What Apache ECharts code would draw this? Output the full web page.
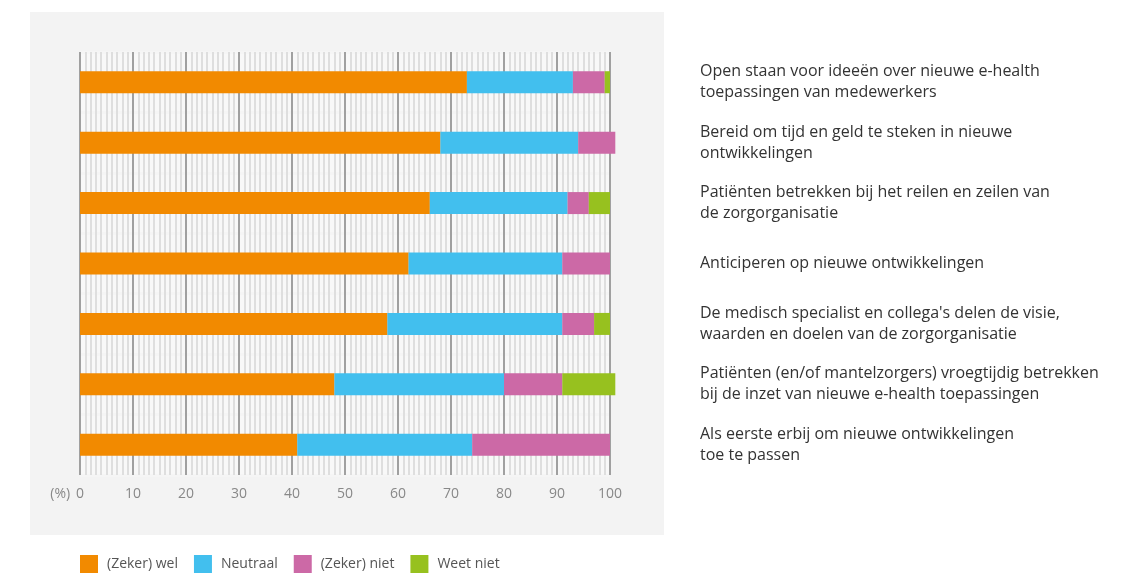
<!DOCTYPE html>
<html>
<head>
<meta charset="utf-8">
<script src="https://cdn.jsdelivr.net/npm/echarts@6/dist/echarts.min.js"></script>
<style>
  html, body { margin: 0; padding: 0; background: #fff; }
  #main { width: 1136px; height: 573px; }
</style>
</head>
<body>
<div id="main"></div>
<script>
var categories = [
    'Open staan voor ideeën over nieuwe e-health\ntoepassingen van medewerkers',
    'Bereid om tijd en geld te steken in nieuwe\nontwikkelingen',
    'Patiënten betrekken bij het reilen en zeilen van\nde zorgorganisatie',
    'Anticiperen op nieuwe ontwikkelingen',
    "De medisch specialist en collega's delen de visie,\nwaarden en doelen van de zorgorganisatie",
    'Patiënten (en/of mantelzorgers) vroegtijdig betrekken\nbij de inzet van nieuwe e-health toepassingen',
    'Als eerste erbij om nieuwe ontwikkelingen\ntoe te passen'
];
var zekerWel = [73, 68, 66, 62, 58, 48, 41];
var neutraal = [20, 26, 26, 29, 33, 32, 33];
var zekerNiet = [6, 7, 4, 9, 6, 11, 26];
var weetNiet = [1, 0, 4, 0, 3, 10, 0];
var seriesNames = ['(Zeker) wel', 'Neutraal', '(Zeker) niet', 'Weet niet'];
var colors = ['#f28a00', '#42bfee', '#cc69a6', '#97c11f'];

var chart = echarts.init(document.getElementById('main'));

function makeSeries(name, data, color) {
    return {
        name: name,
        type: 'bar',
        stack: 'total',
        barWidth: 22,
        clip: false,
        itemStyle: { color: color },
        data: data
    };
}

var option = {
    animation: false,
    textStyle: { fontFamily: 'Open Sans' },
    graphic: [{
        type: 'rect',
        z: -10,
        shape: { x: 30, y: 12, width: 634, height: 523 },
        style: { fill: '#f3f3f3' }
    }],
    legend: {
        left: 75,
        top: 550,
        itemWidth: 18,
        itemHeight: 18,
        itemGap: 16,
        icon: 'rect',
        textStyle: { color: '#555', fontSize: 14, padding: [0, 0, 0, 4] },
        data: seriesNames
    },
    grid: {
        left: 80,
        right: 526,
        top: 52,
        bottom: 98,
        show: true,
        backgroundColor: '#f8f8f8',
        borderWidth: 0
    },
    xAxis: {
        type: 'value',
        min: 0,
        max: 100,
        interval: 10,
        name: '(%)',
        nameLocation: 'start',
        nameGap: 8,
        nameTextStyle: { color: '#888', fontSize: 14, verticalAlign: 'top', padding: [12, 0, 0, 0] },
        axisLine: { show: false },
        axisTick: { show: false },
        axisLabel: { color: '#888', fontSize: 14, margin: 12 },
        splitLine: { show: true, lineStyle: { color: '#a0a0a0', width: 2 } },
        minorTick: { show: false, splitNumber: 10 },
        minorSplitLine: { show: true, lineStyle: { color: '#dedede', width: 2 } }
    },
    yAxis: {
        type: 'category',
        data: categories,
        inverse: true,
        position: 'right',
        axisLine: { show: false },
        axisTick: { show: false },
        splitLine: { show: true, lineStyle: { color: '#f5f5f5', width: 3 } },
        axisLabel: {
            margin: 90,
            align: 'left',
            color: '#333',
            fontSize: 16,
            lineHeight: 21
        }
    },
    series: [
        makeSeries(seriesNames[0], zekerWel, colors[0]),
        makeSeries(seriesNames[1], neutraal, colors[1]),
        makeSeries(seriesNames[2], zekerNiet, colors[2]),
        makeSeries(seriesNames[3], weetNiet, colors[3])
    ]
};

chart.setOption(option);
</script>
</body>
</html>
